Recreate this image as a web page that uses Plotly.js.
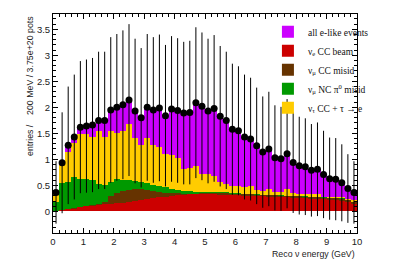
<!DOCTYPE html>
<html>
<head>
<meta charset="utf-8">
<script src="https://cdn.plot.ly/plotly-3.0.1.min.js"></script>
<style>html,body{margin:0;padding:0;background:#fff;}#plot{width:411px;height:279px;}</style>
</head>
<body>
<div id="plot"></div>
<script>
// Bin centres (Reco nu energy, GeV), 200 MeV bins
var energy = [0.1,0.3,0.5,0.7,0.9,1.1,1.3,1.5,1.7,1.9,
              2.1,2.3,2.5,2.7,2.9,3.1,3.3,3.5,3.7,3.9,
              4.1,4.3,4.5,4.7,4.9,5.1,5.3,5.5,5.7,5.9,
              6.1,6.3,6.5,6.7,6.9,7.1,7.3,7.5,7.7,7.9,
              8.1,8.3,8.5,8.7,8.9,9.1,9.3,9.5,9.7,9.9];

// all e-like events (total, also the data points)
var allElike = [0.365,0.935,1.27,1.43,1.62,1.64,1.66,1.75,1.75,1.95,
                2.00,2.05,2.14,1.93,1.80,2.00,1.95,1.99,1.84,1.97,
                1.94,1.89,1.90,2.09,2.02,1.93,1.98,1.83,1.75,1.58,
                1.55,1.43,1.39,1.26,1.14,1.20,1.03,1.01,1.11,0.94,
                0.88,0.86,0.79,0.81,0.71,0.63,0.62,0.55,0.44,0.365];

// statistical error on the points
var allErr = [0.60,0.97,1.13,1.20,1.27,1.28,1.29,1.32,1.32,1.40,
              1.41,1.43,1.46,1.39,1.34,1.41,1.40,1.41,1.36,1.40,
              1.39,1.37,1.38,1.45,1.42,1.39,1.41,1.35,1.32,1.26,
              1.24,1.20,1.18,1.12,1.07,1.10,1.01,1.00,1.05,0.97,
              0.94,0.93,0.89,0.90,0.84,0.79,0.79,0.74,0.66,0.60];

// stacked cumulative tops: red + brown + green + yellow
var stackNuTau = [0.365,0.90,1.15,1.31,1.49,1.48,1.44,1.55,1.44,1.54,
                  1.50,1.54,1.68,1.41,1.27,1.42,1.27,1.24,1.10,1.09,
                  1.02,0.81,0.83,0.88,0.72,0.71,0.69,0.56,0.53,0.48,
                  0.48,0.46,0.49,0.41,0.40,0.44,0.38,0.37,0.43,0.36,
                  0.33,0.33,0.33,0.34,0.28,0.28,0.27,0.27,0.24,0.21];

// red + brown + green
var stackNC = [0.19,0.54,0.57,0.66,0.62,0.62,0.60,0.53,0.50,0.57,
               0.62,0.61,0.60,0.58,0.56,0.54,0.51,0.48,0.46,0.43,
               0.41,0.40,0.39,0.38,0.38,0.38,0.37,0.37,0.37,0.35,
               0.35,0.34,0.34,0.33,0.32,0.32,0.31,0.31,0.30,0.30,
               0.29,0.29,0.28,0.28,0.27,0.26,0.26,0.25,0.22,0.19];

// red + brown
var stackNumuCC = [0.01,0.03,0.05,0.06,0.09,0.11,0.13,0.15,0.19,0.30,
                   0.36,0.39,0.42,0.44,0.43,0.42,0.40,0.37,0.36,0.35,
                   0.35,0.34,0.34,0.34,0.36,0.36,0.36,0.35,0.35,0.34,
                   0.34,0.33,0.33,0.32,0.32,0.31,0.31,0.30,0.30,0.29,
                   0.29,0.28,0.28,0.27,0.26,0.25,0.25,0.24,0.21,0.18];

// red: nu_e CC beam
var nueBeam = [0.01,0.02,0.04,0.05,0.08,0.10,0.11,0.12,0.14,0.15,
               0.16,0.17,0.18,0.20,0.21,0.23,0.25,0.27,0.28,0.30,
               0.31,0.32,0.33,0.33,0.34,0.33,0.33,0.32,0.32,0.31,
               0.31,0.30,0.30,0.29,0.29,0.28,0.28,0.27,0.27,0.26,
               0.25,0.25,0.24,0.24,0.23,0.22,0.21,0.20,0.18,0.15];

var binWidth = 0.2;

function barTrace(y, color, name, rank) {
  return {
    type: 'bar', x: energy, y: y, width: binWidth, name: name,
    marker: {color: color, line: {width: 0}},
    legendrank: rank, hoverinfo: 'skip'
  };
}

var traces = [
  barTrace(allElike,   '#cc00ff', 'all e-like events', 1),
  barTrace(stackNuTau, '#ffcc00', '\u03bd<sub>\u03c4</sub> CC + \u03c4 \u2192 e', 5),
  barTrace(stackNC,    '#009900', '\u03bd<sub>\u03bc</sub> NC \u03c0<sup>0</sup> misid', 4),
  barTrace(stackNumuCC,'#663300', '\u03bd<sub>\u03bc</sub> CC misid', 3),
  barTrace(nueBeam,    '#cc0000', '\u03bd<sub>e</sub> CC beam', 2),
  {
    type: 'scatter', mode: 'markers', x: energy, y: allElike, showlegend: false,
    marker: {color: '#000', size: 7},
    error_y: {type: 'data', array: allErr, visible: true, color: '#000', thickness: 1, width: 0}
  }
];

var axFont = {family: 'Liberation Sans, Arial, sans-serif', size: 9.5, color: '#222'};
var titleFont = {family: 'Liberation Sans, Arial, sans-serif', size: 8.8, color: '#222'};

var layout = {
  width: 411, height: 279,
  margin: {l: 53, r: 54, t: 14, b: 46, pad: 0},
  paper_bgcolor: '#fff', plot_bgcolor: '#fff',
  barmode: 'overlay', bargap: 0,
  showlegend: true,
  legend: {
    x: 0.707, y: 0.985, xanchor: 'left', yanchor: 'top',
    bgcolor: 'rgba(0,0,0,0)', borderwidth: 0,
    font: {family: 'Liberation Serif, Times New Roman, serif', size: 9.5, color: '#111'},
    traceorder: 'normal'
  },
  xaxis: {
    range: [0, 10], dtick: 1, tick0: 0,
    ticks: 'inside', ticklen: 5, tickcolor: '#000', tickwidth: 1,
    showline: true, linecolor: '#000', linewidth: 1, mirror: 'ticks',
    minor: {dtick: 0.2, ticks: 'inside', ticklen: 3, tickcolor: '#000', showgrid: false},
    showgrid: false, zeroline: false, tickfont: axFont
  },
  yaxis: {
    range: [-0.415, 3.795], dtick: 0.5, tick0: 0,
    ticks: 'inside', ticklen: 5, tickcolor: '#000', tickwidth: 1,
    showline: true, linecolor: '#000', linewidth: 1, mirror: 'ticks',
    minor: {dtick: 0.1, ticks: 'inside', ticklen: 3, tickcolor: '#000', showgrid: false},
    showgrid: false, zeroline: false, tickfont: axFont
  },
  annotations: [
    {
      text: 'Reco \u03bd energy (GeV)', xref: 'paper', yref: 'paper',
      x: 1, y: 0, xanchor: 'right', yanchor: 'top', yshift: -14,
      showarrow: false, font: titleFont
    },
    {
      text: 'entries /\u00a0\u00a0\u00a0 200 MeV / 3.75e+20 pots', xref: 'paper', yref: 'paper',
      x: -0.0757, y: 1, xanchor: 'center', yanchor: 'top', textangle: -90,
      showarrow: false, font: titleFont
    }
  ]
};

Plotly.newPlot('plot', traces, layout, {displayModeBar: false, staticPlot: true});
</script>
</body>
</html>
